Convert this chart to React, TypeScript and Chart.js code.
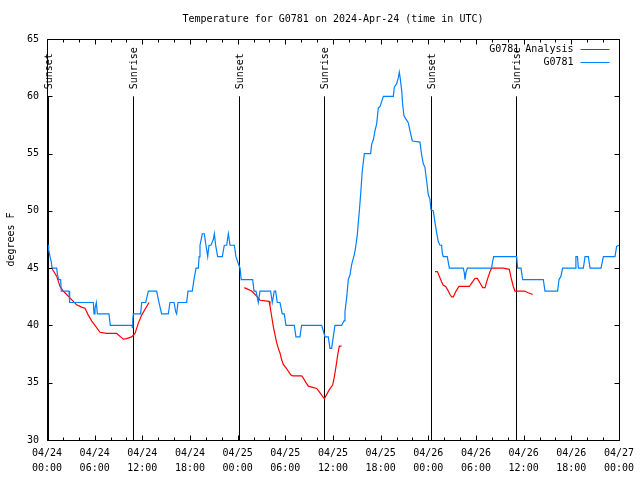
import React, { useEffect, useRef } from "react";
import { Chart, registerables } from "chart.js";

Chart.register(...registerables);

// ---- data (x in hours since 04/24 00:00 UTC, y in degrees F) ----
const blueHours = [
  0.02, 0.13, 0.21, 0.38, 0.45, 0.55, 0.63, 1.22, 1.3, 1.47, 1.72, 1.8, 2.77, 2.85,
  5.83, 5.92, 6.04, 6.21, 6.34, 7.8, 7.97, 10.7, 10.75, 10.8, 10.87, 11.79, 11.92,
  12.42, 12.76, 13.8, 14.1, 14.43, 15.27, 15.48, 15.99, 16.2, 16.32, 16.49, 17.58,
  17.75, 18.29, 18.5, 18.76, 19.05, 19.15, 19.26, 19.55, 19.8, 20.01, 20.23, 20.39,
  20.64, 20.94, 21.07, 21.23, 21.48, 22.07, 22.32, 22.62, 22.83, 23.04, 23.58, 23.79,
  24.08, 24.3, 24.45, 25.89, 26.06, 26.31, 26.6, 26.81, 28.15, 28.36, 28.61, 28.78,
  28.99, 29.33, 29.62, 29.87, 30.08, 31.13, 31.34, 31.84, 32.05, 34.58, 34.79, 35.0,
  35.41, 35.62, 35.83, 36.04, 36.25, 37.09, 37.39, 37.51, 37.72, 37.93, 38.14, 38.35,
  38.69, 38.85, 39.06, 39.19, 39.32, 39.48, 39.69, 39.95, 40.74, 40.87, 41.08, 41.29,
  41.5, 41.71, 41.92, 42.34, 43.6, 43.72, 44.02, 44.22, 44.35, 44.48, 44.65, 44.77,
  44.94, 45.19, 45.48, 45.69, 45.99, 46.95, 47.16, 47.37, 47.58, 47.79, 48.0, 48.21,
  48.33, 48.63, 48.84, 49.05, 49.26, 49.47, 49.68, 49.76, 49.89, 50.39, 50.52, 50.65,
  52.41, 52.53, 52.62, 52.74, 52.91, 55.97, 56.1, 56.23, 59.12, 59.25, 59.67, 59.88,
  62.48, 62.69, 64.28, 64.45, 64.7, 64.91, 66.47, 66.58, 66.78, 66.89, 67.52, 67.73,
  68.15, 68.36, 69.74, 70.04, 71.5, 71.71, 72.0,
];
const blueTemps = [
  47.1, 47.0, 46.6, 46.0, 46.0, 45.5, 45.0, 45.0, 44.5, 44.0, 44.0, 43.0, 43.0, 42.0,
  42.0, 41.0, 41.5, 42.0, 41.0, 41.0, 40.0, 40.0, 39.8, 40.5, 41.0, 41.0, 42.0,
  42.0, 43.0, 43.0, 42.0, 41.0, 41.0, 42.0, 42.0, 41.2, 41.0, 42.0, 42.0,
  43.0, 43.0, 44.0, 45.0, 45.0, 46.0, 47.0, 48.0, 48.0, 47.0, 46.0, 47.0,
  47.0, 47.5, 48.0, 47.0, 46.0, 46.0, 47.0, 47.0, 48.0, 47.0, 47.0, 46.0,
  45.4, 45.0, 44.0, 44.0, 43.0, 43.0, 42.0, 43.0, 43.0, 42.0, 43.0, 43.0,
  42.0, 42.0, 41.0, 41.0, 40.0, 40.0, 39.0, 39.0, 40.0, 40.0, 39.5, 39.0,
  39.0, 38.0, 38.0, 39.0, 40.0, 40.0, 40.4, 41.2, 42.4, 44.0, 44.4, 45.3,
  46.2, 46.8, 47.9, 49.0, 50.0, 51.4, 53.5, 55.0, 55.0, 55.8, 56.2, 57.0,
  57.6, 59.0, 59.1, 60.0, 60.0, 60.8, 61.1, 61.6, 62.1, 61.5, 60.5, 59.3,
  58.3, 58.0, 57.7, 57.0, 56.1, 56.0, 54.9, 54.1, 53.8, 52.6, 51.4, 51.0,
  50.1, 50.0, 49.0, 48.1, 47.3, 47.0, 47.0, 46.3, 46.0, 46.0, 45.5, 45.0,
  45.0, 44.6, 44.0, 44.6, 45.0, 45.0, 45.6, 46.0, 46.0, 45.0, 45.0, 44.0,
  44.0, 43.0, 43.0, 44.0, 44.3, 45.0, 45.0, 46.0, 46.0, 45.0, 45.0, 46.0,
  46.0, 45.0, 45.0, 46.0, 46.0, 46.9, 47.0,
];

// analysis series; null separates the three runs
const redHours = [
  0.67, 1.22, 1.64, 2.06, 2.47, 2.89, 3.31, 3.73, 4.36, 4.78, 5.2, 5.62, 6.04, 6.67,
  7.51, 8.77, 9.27, 9.61, 10.03, 10.65, 11.08, 11.5, 11.92, 12.42, 12.84,
  18.0,
  24.84, 25.76, 26.6, 26.81, 27.95, 28.07, 28.28, 28.49, 28.7, 28.91, 29.12, 29.33,
  29.54, 29.75, 30.09, 30.38, 30.67, 30.92, 32.06, 32.27, 32.6, 32.9, 33.95, 34.28,
  34.91, 35.54, 35.96, 36.17, 36.38, 36.59, 36.8, 37.09,
  42.0,
  48.84, 49.14, 49.39, 49.68, 49.89, 50.18, 50.44, 50.73, 50.94, 51.15, 51.49, 51.86,
  52.62, 53.16, 53.46, 53.88, 54.17, 54.51, 54.84, 55.14, 55.43, 55.77, 55.98, 57.44,
  58.2, 58.41, 58.7, 58.91, 60.09, 60.59, 61.14,
];
const redTemps = [
  44.9, 44.3, 43.4, 43.0, 42.7, 42.4, 42.1, 41.8, 41.6, 41.5, 40.9, 40.4, 40.0, 39.4,
  39.3, 39.3, 39.0, 38.8, 38.85, 39.0, 39.3, 40.2, 40.9, 41.5, 42.0,
  null,
  43.3, 43.0, 42.4, 42.2, 42.1, 41.7, 40.8, 39.9, 39.2, 38.5, 38.0, 37.6,
  37.0, 36.6, 36.3, 36.0, 35.7, 35.6, 35.6, 35.4, 35.0, 34.7, 34.5, 34.2,
  33.6, 34.4, 34.8, 35.5, 36.4, 37.4, 38.2, 38.2,
  null,
  44.7, 44.7, 44.3, 43.8, 43.5, 43.4, 43.1, 42.7, 42.5, 42.5, 43.0, 43.4,
  43.4, 43.4, 43.7, 44.1, 44.1, 43.7, 43.3, 43.3, 44.0, 44.7, 45.0, 45.0,
  44.9, 44.2, 43.4, 43.0, 43.0, 42.85, 42.7,
];

const sunHours = [0.15, 10.87, 24.2, 34.92, 48.38, 59.08];
const sunLabels = ["Sunset", "Sunrise", "Sunset", "Sunrise", "Sunset", "Sunrise"];
const sunLineTop = 60;

const xDateLabels = ["04/24", "04/24", "04/24", "04/24", "04/25", "04/25", "04/25", "04/25", "04/26", "04/26", "04/26", "04/26", "04/27"];
const xTimeLabels = ["00:00", "06:00", "12:00", "18:00", "00:00", "06:00", "12:00", "18:00", "00:00", "06:00", "12:00", "18:00", "00:00"];

const seriesNames = ["G0781 Analysis", "G0781"];
const seriesColors = ["#ff0000", "#0080ff"];

const TITLE = "Temperature for G0781 on 2024-Apr-24 (time in UTC)";
const FAMILY = "'DejaVu Sans Mono', 'Liberation Mono', monospace";
const FONT = "10px " + FAMILY;

const overlayPlugin = {
  id: "gnuOverlay",
  beforeDatasetsDraw(chart: any) {
    const { ctx, chartArea: a, scales } = chart;
    const xs = scales.x;
    const ys = scales.y;
    ctx.save();
    ctx.strokeStyle = "#000";
    ctx.fillStyle = "#000";
    ctx.lineWidth = 1;
    const yTop = ys.getPixelForValue(sunLineTop);
    sunHours.forEach((h, i) => {
      const px = Math.round(xs.getPixelForValue(h)) + 0.5;
      ctx.beginPath();
      ctx.moveTo(px, yTop);
      ctx.lineTo(px, a.bottom);
      ctx.stroke();
      ctx.save();
      ctx.translate(px + 0.5, yTop - 7);
      ctx.rotate(-Math.PI / 2);
      ctx.font = FONT;
      ctx.textAlign = "left";
      ctx.textBaseline = "middle";
      ctx.fillText(sunLabels[i], 0, 0);
      ctx.restore();
    });
    ctx.restore();
  },
  afterDatasetsDraw(chart: any) {
    const { ctx, chartArea: a, scales } = chart;
    const xs = scales.x;
    const ys = scales.y;
    ctx.save();
    // title, centred over the plot area
    ctx.font = FONT;
    ctx.fillStyle = "#000";
    ctx.textAlign = "center";
    ctx.textBaseline = "middle";
    ctx.fillText(TITLE, (a.left + a.right) / 2, 19.5);

    ctx.strokeStyle = "#000";
    ctx.lineWidth = 1;
    const L = Math.round(a.left) + 0.5;
    const R = Math.round(a.right) + 0.5;
    const T = Math.round(a.top) + 0.5;
    const B = Math.round(a.bottom) + 0.5;
    ctx.beginPath();
    ctx.rect(L, T, R - L, B - T);
    ctx.stroke();
    // x ticks (every 2 h, major every 6 h), inside, bottom and top
    for (let h = xs.min; h <= xs.max; h += 2) {
      const px = Math.round(xs.getPixelForValue(h)) + 0.5;
      const len = h % 6 === 0 ? 5 : 3;
      ctx.beginPath();
      ctx.moveTo(px, B);
      ctx.lineTo(px, B - len);
      ctx.moveTo(px, T);
      ctx.lineTo(px, T + len);
      ctx.stroke();
    }
    // y ticks inside, left and right
    ys.ticks.forEach((t: any) => {
      const py = Math.round(ys.getPixelForValue(t.value)) + 0.5;
      ctx.beginPath();
      ctx.moveTo(L, py);
      ctx.lineTo(L + 5, py);
      ctx.moveTo(R, py);
      ctx.lineTo(R - 5, py);
      ctx.stroke();
    });
    // legend (top right, gnuplot style)
    ctx.textAlign = "right";
    seriesNames.forEach((name, i) => {
      const yy = Math.round(a.top + 10 + i * 13) + 0.5;
      ctx.fillText(name, R - 46, yy);
      ctx.strokeStyle = seriesColors[i];
      ctx.beginPath();
      ctx.moveTo(R - 39, yy);
      ctx.lineTo(R - 10, yy);
      ctx.stroke();
    });
    ctx.restore();
  },
};

export default function App() {
  const ref = useRef<HTMLCanvasElement | null>(null);

  useEffect(() => {
    if (!ref.current) return;
    const redData = redHours.map((h, i) => ({ x: h, y: redTemps[i] }));
    const blueData = blueHours.map((h, i) => ({ x: h, y: blueTemps[i] }));
    const chart = new Chart(ref.current, {
      type: "line",
      data: {
        datasets: [
          {
            label: seriesNames[0],
            data: redData as any,
            borderColor: seriesColors[0],
            borderWidth: 1.2,
            pointRadius: 0,
            tension: 0,
            spanGaps: false,
            order: 2,
          },
          {
            label: seriesNames[1],
            data: blueData as any,
            borderColor: seriesColors[1],
            borderWidth: 1.2,
            pointRadius: 0,
            tension: 0,
            order: 1,
          },
        ],
      },
      plugins: [overlayPlugin],
      options: {
        responsive: false,
        animation: false,
        devicePixelRatio: 1,
        layout: { padding: { left: 0, right: 20, top: 39, bottom: 0 } },
        font: { family: FAMILY, size: 10 },
        plugins: {
          legend: { display: false },
          tooltip: { enabled: false },
          title: { display: false },
        },
        scales: {
          x: {
            type: "linear",
            min: 0,
            max: 72,
            grid: { display: false, drawTicks: false },
            border: { display: false },
            ticks: {
              stepSize: 6,
              autoSkip: false,
              maxRotation: 0,
              minRotation: 0,
              padding: 6,
              color: "#000",
              font: { family: FAMILY, size: 10, lineHeight: 1.5 },
              callback: (_v: any, i: number) => [xDateLabels[i], xTimeLabels[i]],
            },
            afterFit: (s: any) => {
              s.height = 40;
            },
          },
          y: {
            min: 30,
            max: 65,
            grid: { display: false, drawTicks: false },
            border: { display: false },
            ticks: {
              stepSize: 5,
              padding: 8,
              color: "#000",
              font: { family: FAMILY, size: 10 },
            },
            title: {
              display: true,
              text: "degrees F",
              color: "#000",
              font: { family: FAMILY, size: 10, lineHeight: 1.2 },
              padding: { top: 5, bottom: 0 },
            },
            afterFit: (s: any) => {
              s.width = 47;
            },
          },
        },
      } as any,
    });
    return () => chart.destroy();
  }, []);

  return (
    <div style={{ position: "fixed", left: 0, top: 0, width: 640, height: 480, background: "#fff" }}>
      <canvas ref={ref} width={640} height={480} style={{ display: "block" }} />
    </div>
  );
}
